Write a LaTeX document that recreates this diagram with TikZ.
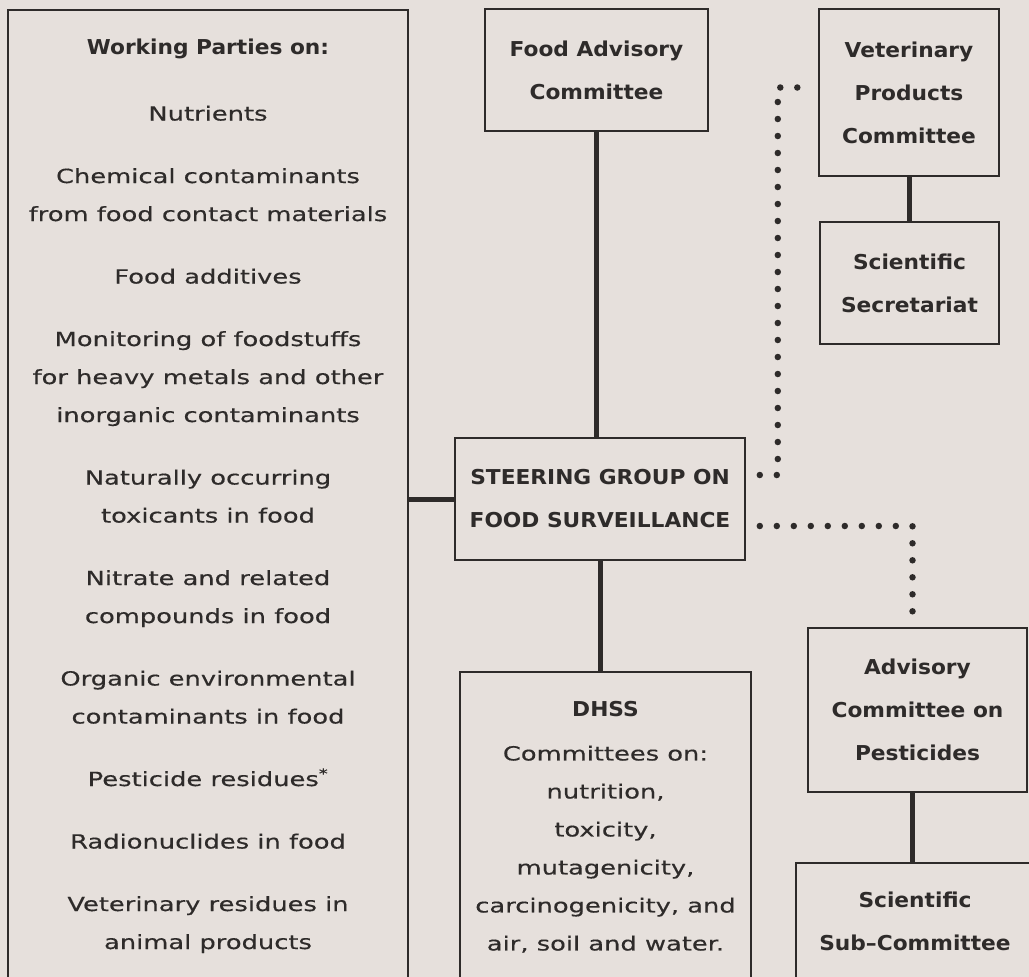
\documentclass[tikz,border=0pt]{standalone}
\usepackage{fontspec}
\setmainfont{DejaVu Sans}[FakeStretch=1.32, FakeBold=0.4]
\newfontfamily\headfont{DejaVu Sans}[FakeStretch=1.06]
\definecolor{paper}{HTML}{E6E0DC}
\definecolor{ink}{HTML}{2E2B2A}
\tikzset{
  box/.style={draw=ink, line width=1.6pt, text=ink, align=center, inner sep=0pt,
    font=\fontsize{19.5}{38}\selectfont},
  head/.style={box, font=\headfont\bfseries\fontsize{20.5}{43}\selectfont},
  link/.style={draw=ink, line width=5pt},
  dots/.style={draw=ink, line width=6.5pt, line cap=round, dash pattern=on 0pt off 17pt}
}
\begin{document}
\begin{tikzpicture}[x=1pt, y=-1pt]
\useasboundingbox (0,0) rectangle (1029,977);
\fill[paper] (0,0) rectangle (1029,977);
\clip (0,0) rectangle (1029,977);
\node[box, minimum width=400pt, minimum height=972pt] (wp) at (208,496) {%
  {\headfont\bfseries\fontsize{20.5}{38}\selectfont Working Parties on:}\\[28pt]
  Nutrients\\[24.5pt]
  Chemical contaminants\\ from food contact materials\\[24.5pt]
  Food additives\\[24.5pt]
  Monitoring of foodstuffs\\ for heavy metals and other\\ inorganic contaminants\\[24.5pt]
  Naturally occurring\\ toxicants in food\\[24.5pt]
  Nitrate and related\\ compounds in food\\[24.5pt]
  Organic environmental\\ contaminants in food\\[24.5pt]
  Pesticide residues\textsuperscript{*}\\[24.5pt]
  Radionuclides in food\\[24.5pt]
  Veterinary residues in\\ animal products};
\node[head, minimum width=223pt, minimum height=122pt] (fac) at (596.5,70) {Food Advisory\\ Committee};
\node[head, minimum width=290pt, minimum height=122pt] (sg) at (600,499) {STEERING GROUP ON\\ FOOD SURVEILLANCE};
\node[box, minimum width=291pt, minimum height=310pt] (dhss) at (605.5,827) {%
  {\headfont\bfseries\fontsize{20.5}{38}\selectfont DHSS}\\[6pt]
  Committees on:\\ nutrition,\\ toxicity,\\ mutagenicity,\\ carcinogenicity, and\\ air, soil and water.};
\node[head, minimum width=180pt, minimum height=167pt] (vpc) at (909,92.5) {Veterinary\\ Products\\ Committee};
\node[head, minimum width=179pt, minimum height=122pt] (ss) at (909.5,283) {Scientific\\ Secretariat};
\node[head, minimum width=219pt, minimum height=164pt] (acp) at (917.5,710) {Advisory\\ Committee on\\ Pesticides};
\node[head, minimum width=238pt, minimum height=117pt] (sub) at (915,921.5) {Scientific\\ Sub–Committee};
\draw[link] (sg.west -| wp.east) -- (sg.west);
\draw[link] (fac.south) -- (fac.south |- sg.north);
\draw[link] (sg.south) -- (sg.south |- dhss.north);
\draw[link] (vpc.south) -- (vpc.south |- ss.north);
\draw[link] ([xshift=-5pt]acp.south) -- ([xshift=-5pt]acp.south |- sub.north);
\draw[dots] ([xshift=14pt,yshift=24pt]sg.east) -- ++(18,0) |- ([xshift=-8pt,yshift=5pt]vpc.west);
\draw[dots] ([xshift=14pt,yshift=-27pt]sg.east) -| ([xshift=-5pt,yshift=14pt]acp.north);
\end{tikzpicture}
\end{document}
